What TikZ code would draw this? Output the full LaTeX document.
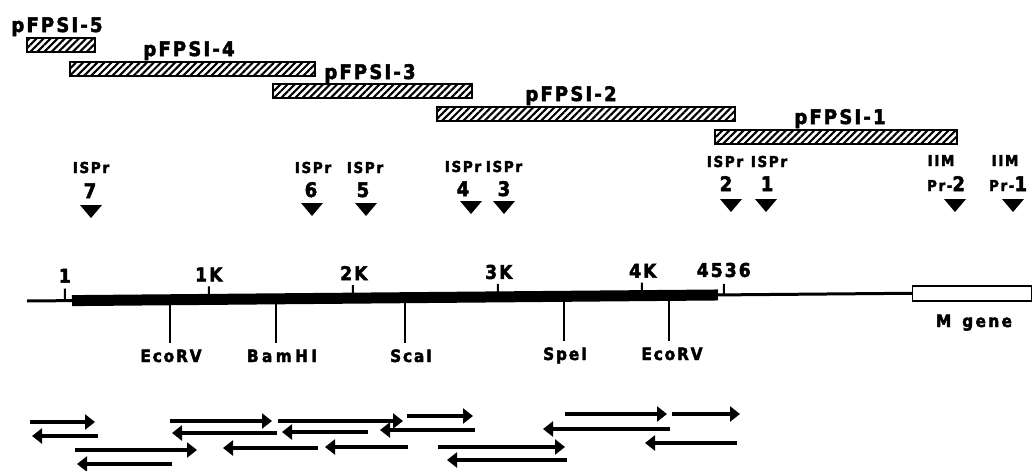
\documentclass[tikz,border=0pt]{standalone}
\usepackage{fontspec}
\setmainfont{DejaVu Sans}
\newfontfamily\lblf{DejaVu Sans Bold}[FakeStretch=0.9,FakeBold=2.5,LetterSpace=11]
\usetikzlibrary{arrows.meta,patterns.meta,calc}
\begin{document}
\begin{tikzpicture}[x=1pt,y=-1pt,
  clonebar/.style={draw,line width=1.6pt,pattern={Lines[angle=45,distance=5pt,line width=2.1pt]}},
  clab/.style={anchor=base,inner sep=0pt,font=\lblf\fontsize{20pt}{20pt}\selectfont},
  plab/.style={anchor=base,inner sep=0pt,font=\lblf\fontsize{15pt}{15pt}\selectfont},
  pnum/.style={anchor=base,inner sep=0pt,font=\lblf\fontsize{20pt}{20pt}\selectfont},
  klab/.style={anchor=base,inner sep=0pt,font=\lblf\fontsize{19pt}{19pt}\selectfont},
  rlab/.style={anchor=base,inner sep=0pt,font=\lblf\fontsize{17pt}{17pt}\selectfont},
  site/.style={line width=1.5pt},
  tick/.style={line width=2pt},
  seq/.style={line width=3.5pt,-{Triangle[length=10pt,width=15pt]}},
  mark/.pic={\fill (-11,-6) -- (11,-6) -- (0,7) -- cycle;}
]
\path[use as bounding box,fill=white] (0,0) rectangle (1034,471);

% clones
\draw[clonebar] (27,38) rectangle (95,52);
\node[clab] (c5) at (57,32) {pFPSI-5};
\draw[clonebar] (70,62) rectangle (315,76);
\node[clab] (c4) at (189,56) {pFPSI-4};
\draw[clonebar] (273,84) rectangle (472,98);
\node[clab] (c3) at (370,79) {pFPSI-3};
\draw[clonebar] (437,107) rectangle (735,121);
\node[clab] (c2) at (571,101) {pFPSI-2};
\draw[clonebar] (715,130) rectangle (957,144);
\node[clab] (c1) at (840,124) {pFPSI-1};

% primers
\node[plab] (p7) at (91,173) {ISPr};  \node[pnum] (n7) at (90,198) {7};  \pic at (91,211) {mark};
\node[plab] (p6) at (313,173) {ISPr}; \node[pnum] (n6) at (311,197) {6}; \pic at (312,209) {mark};
\node[plab] (p5) at (365,173) {ISPr}; \node[pnum] (n5) at (363,197) {5}; \pic at (366,209) {mark};
\node[plab] (p4) at (463,172) {ISPr}; \node[pnum] (n4) at (463,196) {4}; \pic at (471,207) {mark};
\node[plab] (p3) at (504,172) {ISPr}; \node[pnum] (n3) at (504,196) {3}; \pic at (504,207) {mark};
\node[plab] (p2) at (725,167) {ISPr}; \node[pnum] (n2) at (726,191) {2}; \pic at (731,205) {mark};
\node[plab] (p1) at (769,167) {ISPr}; \node[pnum] (n1) at (767,191) {1}; \pic at (766,205) {mark};
\node[plab] (m2) at (941,166) {IIM}; \node[plab] (q2) at (946,191) {Pr-{\fontsize{20pt}{20pt}\selectfont 2}}; \pic at (955,205) {mark};
\node[plab] (m1) at (1005,166) {IIM}; \node[plab] (q1) at (1008,191) {Pr-{\fontsize{20pt}{20pt}\selectfont 1}}; \pic at (1013,205) {mark};

% restriction sites
\coordinate (s1) at (170,300);
\coordinate (s2) at (276,300);
\coordinate (s3) at (405,300);
\coordinate (s4) at (564,298);
\coordinate (s5) at (669,297);
\node[rlab] (e1) at (171,362) {EcoRV};
\node[rlab] (e2) at (282,362) {\addfontfeatures{LetterSpace=20}BamHI};
\node[rlab] (e3) at (411,362) {ScaI};
\node[rlab] (e4) at (565,360) {SpeI};
\node[rlab] (e5) at (672,360) {EcoRV};
\foreach \s/\e in {s1/e1,s2/e2,s3/e3,s4/e4,s5/e5}
  \draw[site] (\s) -- ($(\s |- \e.north)+(0,-6)$);

% scale line
\begin{scope}[rotate around={0.5:(27,301)}]
  \node[draw,line width=1.5pt,fill=white,minimum width=119pt,minimum height=15pt,anchor=west,inner sep=0pt] (mg) at (912,301) {};
  \draw[line width=3pt] (27,301) -- (mg.west);
  \draw[line width=11pt] (72,301) -- (718,301);
  \draw[tick] (65,289) -- (65,301);
  \foreach \x in {209,353,498,642} \draw[tick] (\x,288) -- (\x,296);
  \draw[tick] (724,290) -- (724,301);
  \node[klab] (k0) at (65,283) {1};
  \node[klab] (k1) at (209,283) {1K};
  \node[klab] (k2) at (354,283) {2K};
  \node[klab] (k3) at (499,283) {3K};
  \node[klab] (k4) at (643,283) {4K};
  \node[klab] (k5) at (724,283) {4536};
\end{scope}
\node[rlab] (mgl) at (974,327) {\addfontfeatures{LetterSpace=14}M\hspace{11pt}gene};

% sequencing arrows
\draw[seq] (30,422) -- (95,422);
\draw[seq] (170,421) -- (272,421);
\draw[seq] (278,421) -- (403,421);
\draw[seq] (407,416) -- (473,416);
\draw[seq] (75,450) -- (197,450);
\draw[seq] (438,447) -- (565,447);
\draw[seq] (565,414) -- (667,414);
\draw[seq] (672,414) -- (740,414);
\draw[seq] (98,436) -- (32,436);
\draw[seq] (172,464) -- (77,464);
\draw[seq] (277,433) -- (172,433);
\draw[seq] (318,448) -- (223,448);
\draw[seq] (368,432) -- (282,432);
\draw[seq] (408,447) -- (325,447);
\draw[seq] (475,430) -- (380,430);
\draw[seq] (567,460) -- (447,460);
\draw[seq] (670,429) -- (543,429);
\draw[seq] (737,443) -- (645,443);
\end{tikzpicture}
\end{document}
